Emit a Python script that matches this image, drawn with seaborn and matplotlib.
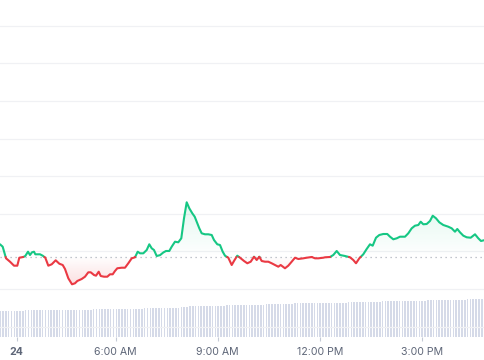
import numpy as np
import pandas as pd
import matplotlib
matplotlib.use("Agg")
import matplotlib.pyplot as plt
import matplotlib.colors as mcolors
from matplotlib.path import Path
import seaborn as sns

# ---------------- data ----------------
# time of day in hours
times = [2.597, 2.676, 2.774, 2.891, 3.009, 3.106, 3.165, 3.282, 3.341, 3.421,
         3.479, 3.538, 3.597, 3.635, 3.694, 3.774, 3.853, 3.929, 4.018, 4.118,
         4.235, 4.341, 4.441, 4.509, 4.606, 4.715, 4.803, 4.871, 5.000, 5.097,
         5.194, 5.265, 5.362, 5.421, 5.500, 5.559, 5.656, 5.753, 5.832, 5.912,
         5.979, 6.047, 6.176, 6.274, 6.371, 6.471, 6.568, 6.647, 6.715, 6.812,
         6.912, 6.988, 7.059, 7.126, 7.206, 7.303, 7.400, 7.479, 7.576, 7.647,
         7.744, 7.841, 7.929, 8.009, 8.088, 8.165, 8.253, 8.324, 8.382, 8.459,
         8.529, 8.626, 8.724, 8.824, 8.891, 8.988, 9.068, 9.147, 9.215, 9.312,
         9.412, 9.479, 9.576, 9.656, 9.774, 9.871, 9.971, 10.068, 10.147, 10.224,
         10.294, 10.391, 10.488, 10.588, 10.685, 10.782, 10.853, 10.979, 11.076, 11.176,
         11.274, 11.371, 11.518, 11.618, 11.765, 11.862, 11.959, 12.106, 12.156, 12.303,
         12.400, 12.500, 12.597, 12.744, 12.891, 12.988, 13.068, 13.165, 13.282, 13.382,
         13.479, 13.559, 13.656, 13.753, 13.871, 13.988, 14.068, 14.165, 14.265, 14.362,
         14.509, 14.606, 14.706, 14.803, 14.900, 14.971, 15.047, 15.147, 15.244, 15.324,
         15.421, 15.518, 15.635, 15.782, 15.882, 15.979, 16.047, 16.126, 16.224, 16.324,
         16.441, 16.568, 16.665, 16.744, 16.862]

prices = [1.189, 1.125, 0.816, 0.726, 0.620, 0.620, 0.832, 0.851, 0.878, 0.992,
          0.904, 0.976, 0.992, 0.923, 0.923, 0.923, 0.886, 0.832, 0.620, 0.657,
          0.763, 0.673, 0.638, 0.532, 0.285, 0.125, 0.152, 0.213, 0.266, 0.327,
          0.444, 0.444, 0.372, 0.354, 0.460, 0.346, 0.327, 0.327, 0.391, 0.391,
          0.479, 0.551, 0.566, 0.566, 0.684, 0.816, 0.843, 0.992, 0.949, 0.949,
          1.037, 1.189, 1.082, 1.037, 0.878, 0.900, 0.971, 1.011, 1.011, 1.125,
          1.258, 1.242, 1.348, 1.880, 2.306, 2.146, 2.013, 1.923, 1.790, 1.614,
          1.481, 1.455, 1.455, 1.436, 1.303, 1.189, 1.170, 0.992, 0.886, 0.832,
          0.638, 0.745, 0.886, 0.832, 0.745, 0.684, 0.726, 0.859, 0.771, 0.859,
          0.745, 0.726, 0.726, 0.684, 0.638, 0.593, 0.638, 0.551, 0.620, 0.726,
          0.832, 0.798, 0.816, 0.832, 0.851, 0.816, 0.816, 0.832, 0.843, 0.851,
          0.904, 1.011, 0.904, 0.878, 0.843, 0.771, 0.684, 0.816, 0.923, 1.064,
          1.189, 1.152, 1.364, 1.436, 1.463, 1.463, 1.391, 1.322, 1.348, 1.391,
          1.391, 1.481, 1.614, 1.684, 1.702, 1.790, 1.721, 1.729, 1.809, 1.949,
          1.880, 1.774, 1.702, 1.657, 1.614, 1.524, 1.596, 1.508, 1.418, 1.375,
          1.364, 1.455, 1.348, 1.277, 1.303]

baseline_price = 0.851

# volume bars: one bar every 5 minutes from 2.6 h
vol_start_hour = 2.6
vol_step_minutes = 5
volumes = [26.2, 26.3, 26.3, 26.4, 26.4, 26.4, 26.5, 26.5, 26.5, 26.6,
           26.6, 26.6, 26.7, 26.7, 26.7, 26.8, 26.8, 26.8, 26.9, 26.9,
           26.9, 27.0, 27.0, 27.0, 27.1, 27.1, 27.2, 27.2, 27.2, 27.3,
           27.3, 27.4, 27.4, 27.6, 27.7, 27.8, 27.8, 27.9, 27.9, 28.0,
           28.0, 28.1, 28.1, 28.2, 28.2, 28.3, 28.3, 28.4, 28.4, 28.5,
           28.5, 28.6, 28.6, 28.7, 28.7, 28.8, 28.8, 28.9, 28.9, 29.0,
           29.0, 29.1, 29.2, 29.4, 30.2, 30.4, 30.5, 30.6, 30.6, 30.7,
           30.7, 30.8, 30.8, 30.9, 30.9, 31.0, 31.2, 31.4, 31.5, 31.5,
           31.6, 31.6, 31.7, 31.8, 31.8, 31.9, 32.0, 32.0, 32.1, 32.2,
           32.2, 32.3, 32.4, 32.5, 32.6, 32.7, 32.8, 33.0, 33.1, 33.2,
           33.3, 33.4, 33.5, 33.5, 33.6, 33.7, 33.7, 33.8, 33.8, 33.9,
           33.9, 34.0, 34.0, 34.1, 34.1, 34.2, 34.2, 34.3, 34.3, 34.4,
           34.4, 34.5, 34.5, 34.6, 34.6, 34.7, 34.8, 34.9, 35.0, 35.1,
           35.2, 35.3, 35.4, 35.5, 35.5, 35.6, 35.6, 35.7, 35.7, 35.8,
           35.8, 35.9, 35.9, 36.0, 36.1, 36.2, 36.3, 36.4, 36.4, 36.5,
           36.5, 36.6, 36.7, 36.8, 36.9, 37.0, 37.1, 37.2, 37.2, 37.3,
           37.3, 37.4, 37.4, 37.5, 37.5, 37.6, 37.6, 37.7, 37.7, 37.8,
           37.8]

tick_hours = [3.09, 6, 9, 12, 15]
tick_labels = ["24", "6:00 AM", "9:00 AM", "12:00 PM", "3:00 PM"]
grid_levels = [-1, 0, 1, 2, 3, 4, 5, 6, 7]

# ---------------- style ----------------
sns.set_style("white")
plt.rcParams["font.family"] = ["Inter", "DejaVu Sans"]

GREEN = "#16c784"
RED = "#ea3943"
VOL_COLOR = "#d5dae8"
GRID_COLOR = "#f0f1f4"

fig = plt.figure(figsize=(4.85, 3.6), dpi=100)
ax_vol = fig.add_axes([0, 23 / 360, 1, 337 / 360])
ax_p = ax_vol.twinx()

# ---------------- volume ----------------
vol_t = vol_start_hour + np.arange(len(volumes)) * vol_step_minutes / 60.0
ax_vol.bar(vol_t, volumes, width=0.045, color=VOL_COLOR, linewidth=0, zorder=1)
ax_vol.set_ylim(0, 337)
ax_vol.set_yticks([])

# ---------------- price line split at baseline ----------------
t = np.asarray(times, float)
p = np.asarray(prices, float)
rows = []
seg = 0
prev = None
for i in range(len(t)):
    s = "up" if p[i] >= baseline_price else "down"
    if prev is not None and s != prev:
        f = (baseline_price - p[i - 1]) / (p[i] - p[i - 1])
        tc = t[i - 1] + f * (t[i] - t[i - 1])
        rows.append((tc, baseline_price, prev, seg))
        seg += 1
        rows.append((tc, baseline_price, s, seg))
    rows.append((t[i], p[i], s, seg))
    prev = s
df = pd.DataFrame(rows, columns=["t", "price", "side", "seg"])

ta = df["t"].to_numpy()
pa = df["price"].to_numpy()


def gradient_fill(mask, color, lo, hi, a_lo, a_hi):
    poly = ax_p.fill_between(ta, pa, baseline_price, where=mask,
                             facecolor="none", edgecolor="none", linewidth=0)
    paths = poly.get_paths()
    if not paths:
        return
    cp = Path.make_compound_path(*paths)
    rgb = mcolors.to_rgb(color)
    n = 256
    img = np.zeros((n, 1, 4))
    img[:, 0, :3] = rgb
    img[:, 0, 3] = np.linspace(a_lo, a_hi, n)
    im = ax_p.imshow(img, extent=[ta.min(), ta.max(), lo, hi], origin="lower",
                     aspect="auto", interpolation="bilinear", zorder=1)
    im.set_clip_path(cp, ax_p.transData)


gradient_fill(pa >= baseline_price - 1e-9, GREEN, baseline_price, p.max(), 0.0, 0.13)
gradient_fill(pa <= baseline_price + 1e-9, RED, p.min(), baseline_price, 0.16, 0.0)

ax_p.axhline(baseline_price, color="#aeb3bd", linewidth=0.9,
             linestyle=(0, (1, 3)), zorder=2)

sns.lineplot(data=df, x="t", y="price", hue="side", units="seg",
             estimator=None, sort=False, palette={"up": GREEN, "down": RED},
             linewidth=1.5, legend=False, ax=ax_p, zorder=3)

# ---------------- axes cosmetics ----------------
ax_p.set_ylim((289 - 337) / 37.6, 289 / 37.6)
ax_p.set_yticks(grid_levels)
ax_p.grid(axis="y", color=GRID_COLOR, linewidth=0.9)
ax_p.grid(axis="x", visible=False)
ax_p.set_axisbelow(True)
ax_p.tick_params(axis="y", left=False, right=False, labelleft=False, labelright=False)
ax_p.set_xlabel("")
ax_p.set_ylabel("")

ax_vol.set_xlim(2.597, 16.862)
ax_vol.set_xticks(tick_hours)
ax_vol.set_xticklabels(tick_labels)
ax_vol.tick_params(axis="x", bottom=True, direction="out", length=3, width=0.8,
                   color="#c5cad6", labelcolor="#5e6678", labelsize=7.6, pad=4)
ax_vol.get_xticklabels()[0].set_fontweight("bold")
ax_vol.set_xlabel("")
ax_vol.set_ylabel("")

for a in (ax_vol, ax_p):
    for sp in a.spines.values():
        sp.set_visible(False)

fig.savefig("out.png", dpi=100)
